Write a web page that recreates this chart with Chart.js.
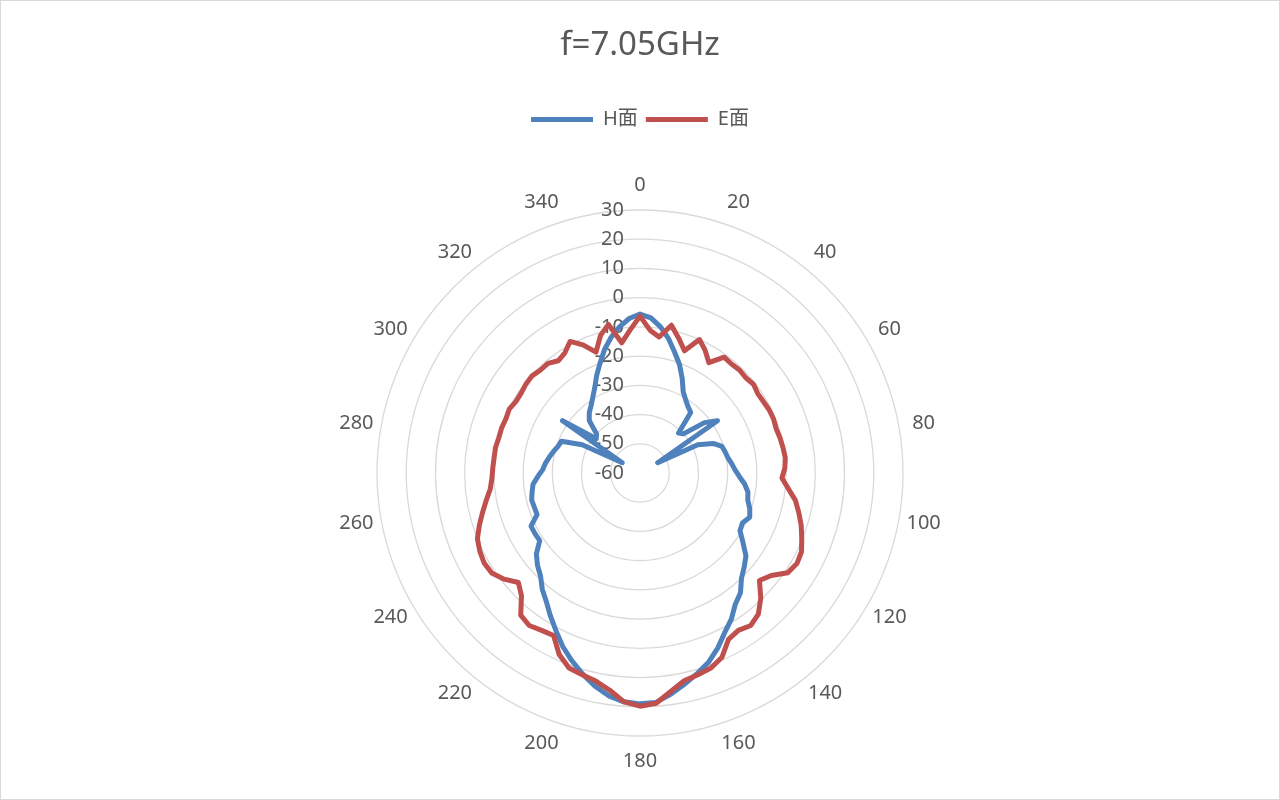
<!DOCTYPE html>
<html>
<head>
<meta charset="utf-8">
<title>f=7.05GHz</title>
<script src="https://cdn.jsdelivr.net/npm/chart.js@4.4.1/dist/chart.umd.min.js"></script>
<style>
  html, body { margin: 0; padding: 0; background: #fff; }
  #wrap { position: relative; width: 1280px; height: 800px; box-sizing: border-box; border: 1px solid #d9d9d9; }
</style>
</head>
<body>
<div id="wrap"><canvas id="polarChart"></canvas></div>
<script>
// angle in degrees (category axis of the radar)
var angles = [0, 4, 8, 12, 16, 20, 24, 28, 32, 36, 40, 44, 48, 52, 56, 60, 64, 68, 72, 76,
  80, 84, 88, 92, 96, 100, 104, 108, 112, 116, 120, 124, 128, 132, 136, 140, 144, 148, 152, 156,
  160, 164, 168, 172, 176, 180, 184, 188, 192, 196, 200, 204, 208, 212, 216, 220, 224, 228, 232, 236,
  240, 244, 248, 252, 256, 260, 264, 268, 272, 276, 280, 284, 288, 292, 296, 300, 304, 308, 312, 316,
  320, 324, 328, 332, 336, 340, 344, 348, 352, 356];

// H面 (blue)
var hPlane = [-5.6, -6.8, -9.5, -13, -17, -20.5, -24.5, -28.5, -30.5, -32, -33, -41, -40, -32, -28, -53, -38, -33, -30.5, -30,
  -29.5, -28.5, -27.5, -26, -24, -22.5, -22, -20.5, -19.5, -21, -20.5, -17.5, -14, -12, -10, -6.5, -4.5, -1, 1.8, 5.5,
  8.8, 11.3, 13.8, 16.4, 18.7, 19, 18.5, 17, 14.5, 11.5, 8.3, 5, 1.2, -2.2, -5.5, -8, -11, -12.8, -15, -18.6,
  -18.5, -18.5, -22, -22, -21.8, -22.5, -23.2, -25, -26.7, -27.5, -28.5, -29.5, -30.5, -31, -38, -53, -28, -41, -40, -35,
  -33, -31.5, -29.5, -27, -23.5, -20, -16, -12.5, -9.5, -7];

// E面 (red)
var ePlane = [-6.3, -11, -13, -8.3, -12, -15.5, -10, -12.5, -15.5, -11, -11.3, -11, -11.3, -10.7, -11.4, -11.2, -10.8, -10.7, -11, -10.6,
  -10.3, -10, -10.4, -11.4, -9, -6, -4, -2, -0.3, 1.5, 2, 1, -3, -5, -0.5, 3, 4.5, 3.5, 4.5, 9,
  11, 11.8, 12.7, 15.5, 19, 19.8, 18.5, 15, 12.8, 11.8, 11, 8, 3, 3.5, 4.5, 3.5, -1.6, -4, -1, 1.2,
  1.6, 1, 0, -2.2, -4.5, -6.6, -8.5, -9.3, -9.6, -9.8, -9.8, -10.2, -10.2, -10.5, -10.2, -11, -11, -10.5, -10.3, -11,
  -11, -12.5, -11.5, -9, -12, -16, -11, -8, -15, -11];

var radialTicks = [-60, -50, -40, -30, -20, -10, 0, 10, 20, 30];
var labelStep = 20; // only every 20 degrees gets an angle label

var fontFamily = '"Noto Sans", "Noto Sans CJK SC", sans-serif';
Chart.defaults.font.family = fontFamily;
Chart.defaults.color = '#595959';

// push the plot area below the legend like the Excel layout
var legendSpacer = {
  id: 'legendSpacer',
  beforeInit: function (chart) {
    var origFit = chart.legend.fit;
    chart.legend.fit = function () {
      origFit.call(this);
      this.height += 71;
    };
  }
};

// Excel style axis text: value labels left of the vertical axis,
// angle labels centred on a circle just outside the grid
var excelAxisText = {
  id: 'excelAxisText',
  beforeDatasetsDraw: function (chart) {
    var s = chart.scales.r;
    var ctx = chart.ctx;
    ctx.save();
    ctx.font = '20px ' + fontFamily;
    ctx.fillStyle = '#595959';
    ctx.textBaseline = 'middle';

    ctx.textAlign = 'right';
    radialTicks.forEach(function (v) {
      var d = s.getDistanceFromCenterForValue(v);
      ctx.fillText(String(v), s.xCenter - 16, s.yCenter - d);
    });

    ctx.textAlign = 'center';
    angles.forEach(function (a, i) {
      if (a % labelStep !== 0) return;
      var p = s.getPointPosition(i, s.drawingArea + 25);
      ctx.fillText(String(a), p.x, p.y);
    });
    ctx.restore();
  }
};

var ctx = document.getElementById('polarChart');
var polarChart = new Chart(ctx, {
  type: 'radar',
  data: {
    labels: angles,
    datasets: [{
      label: 'H面',
      data: hPlane,
      borderColor: '#4F81BD',
      backgroundColor: '#4F81BD',
      borderWidth: 5,
      borderCapStyle: 'round',
      borderJoinStyle: 'round',
      pointRadius: 0,
      fill: false,
      tension: 0,
      order: 1
    }, {
      label: 'E面',
      data: ePlane,
      borderColor: '#C0504D',
      backgroundColor: '#C0504D',
      borderWidth: 5,
      borderCapStyle: 'round',
      borderJoinStyle: 'round',
      pointRadius: 0,
      fill: false,
      tension: 0,
      order: 0
    }]
  },
  options: {
    responsive: true,
    maintainAspectRatio: false,
    animation: false,
    layout: { padding: { bottom: 62 } },
    plugins: {
      title: {
        display: true,
        text: 'f=7.05GHz',
        color: '#595959',
        font: { size: 33, weight: 'normal' },
        padding: { top: 25, bottom: 36 }
      },
      legend: {
        display: true,
        position: 'top',
        labels: {
          usePointStyle: true,
          pointStyle: 'line',
          pointStyleWidth: 62,
          padding: 8,
          color: '#595959',
          font: { size: 20 },
          sort: function (a, b) { return a.datasetIndex - b.datasetIndex; }
        }
      },
      tooltip: { enabled: false }
    },
    scales: {
      r: {
        min: -60,
        max: 30,
        ticks: { stepSize: 10, display: false },
        grid: { circular: true, color: '#d9d9d9', lineWidth: 1.3 },
        angleLines: { display: false },
        pointLabels: { display: false }
      }
    }
  },
  plugins: [legendSpacer, excelAxisText]
});
</script>
</body>
</html>
